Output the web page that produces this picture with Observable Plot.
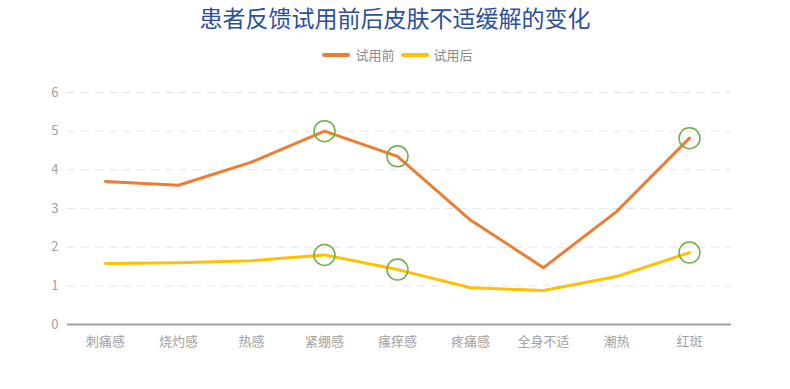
<!DOCTYPE html>
<html><head><meta charset="utf-8">
<script src="https://cdn.jsdelivr.net/npm/d3@7"></script>
<script src="https://cdn.jsdelivr.net/npm/@observablehq/plot@0.6"></script>
<style>
body{margin:0;background:#fff;font-family:"Noto Sans CJK SC","Noto Sans",sans-serif;}
#wrap{position:relative;width:790px;height:389px;overflow:hidden;}
#title{position:absolute;left:0;top:2px;width:790px;text-align:center;font-size:23px;color:#2b4f9c;line-height:30px;}
#legend{position:absolute;left:0;top:45px;width:790px;display:flex;justify-content:center;align-items:center;font-size:13px;color:#8a8a8a;}
.sw{display:inline-block;width:28px;height:4px;border-radius:2px;margin:0 5px 0 5px;}
#chart{position:absolute;left:0;top:80px;}
</style></head><body>
<div id="wrap">
<div id="title">患者反馈试用前后皮肤不适缓解的变化</div>
<div id="legend"><span class="sw" style="background:#ed7d31"></span>试用前<span class="sw" style="background:#ffc000;margin-left:6px"></span>试用后</div>
<div id="chart"></div>
</div>
<script>
const categories = ["刺痛感","烧灼感","热感","紧绷感","瘙痒感","疼痛感","全身不适","潮热","红斑"];
const beforeVals = [3.7, 3.6, 4.2, 5.0, 4.35, 2.7, 1.47, 2.92, 4.82];
const afterVals  = [1.58, 1.6, 1.65, 1.8, 1.42, 0.95, 0.88, 1.24, 1.86];
const highlighted = ["紧绷感","瘙痒感","红斑"];
const yTicks = [0,1,2,3,4,5,6];

const before = categories.map((c,i)=>({cat:c, v:beforeVals[i]}));
const after = categories.map((c,i)=>({cat:c, v:afterVals[i]}));
const marks = [...before, ...after].filter(d=>highlighted.includes(d.cat));

const plot = Plot.plot({
  width: 790, height: 309,
  marginLeft: 67, marginRight: 59, marginTop: 12, marginBottom: 65,
  style: {fontFamily: '"Noto Sans CJK SC","Noto Sans",sans-serif', fontSize: "13px", color: "#a0a0a0", background: "transparent"},
  x: {type: "point", domain: categories, range: [104, 690], padding: 0, label: null, tickSize: 0, tickPadding: 12},
  y: {domain: [0, 6], ticks: yTicks, tickFormat: d3.format("d"), label: null, tickSize: 0, tickPadding: 9},
  marks: [
    Plot.ruleY(yTicks.filter(t=>t>0), {stroke: "#e0e6f1", strokeDasharray: "8,6", strokeWidth: 1}),
    Plot.ruleY([0], {stroke: "#a0a0a0", strokeWidth: 2}),
    Plot.line(before, {x: "cat", y: "v", stroke: "#ed7d31", strokeWidth: 3}),
    Plot.line(after, {x: "cat", y: "v", stroke: "#ffc000", strokeWidth: 3}),
    Plot.dot(marks, {x: "cat", y: "v", r: 10.5, stroke: "#70ad47", strokeWidth: 1.5, fill: "none"})
  ]
});
document.getElementById("chart").appendChild(plot);
</script>
</body></html>
